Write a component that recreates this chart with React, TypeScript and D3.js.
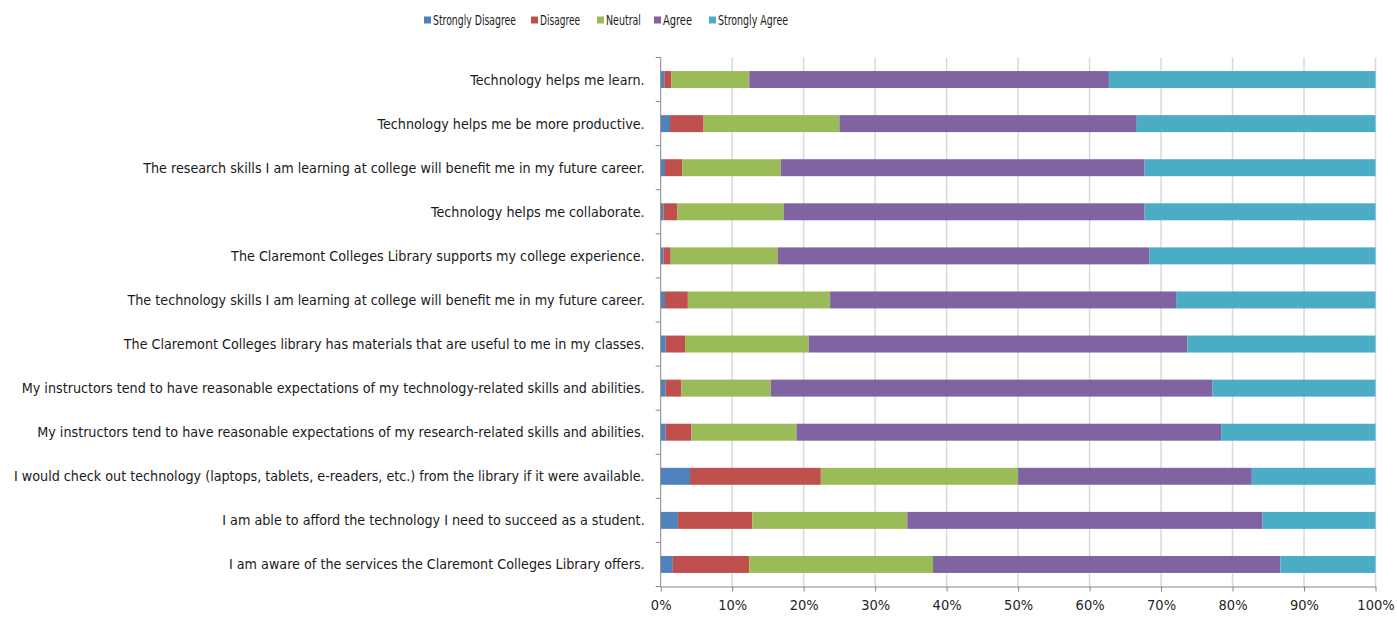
import React, { useRef, useEffect } from 'react';
import * as d3 from 'd3';

// survey statements, top to bottom
const statements = [
  'Technology helps me learn.',
  'Technology helps me be more productive.',
  'The research skills I am learning at college will benefit me in my future career.',
  'Technology helps me collaborate.',
  'The Claremont Colleges Library supports my college experience.',
  'The technology skills I am learning at college will benefit me in my future career.',
  'The Claremont Colleges library has materials that are useful to me in my classes.',
  'My instructors tend to have reasonable expectations of my technology-related skills and abilities.',
  'My instructors tend to have reasonable expectations of my research-related skills and abilities.',
  'I would check out technology (laptops, tablets, e-readers, etc.) from the library if it were available.',
  'I am able to afford the technology I need to succeed as a student.',
  'I am aware of the services the Claremont Colleges Library offers.',
];

const responses = ['Strongly Disagree', 'Disagree', 'Neutral', 'Agree', 'Strongly Agree'];
const colors = ['#4F81BD', '#C0504D', '#9BBB59', '#8064A2', '#4BACC6'];

// percentages per statement
const stronglyDisagree = [0.5, 1.3, 0.6, 0.4, 0.4, 0.6, 0.7, 0.7, 0.7, 4.1, 2.4, 1.7];
const disagree = [1.0, 4.7, 2.4, 1.9, 1.0, 3.2, 2.7, 2.2, 3.6, 18.3, 10.4, 10.7];
const neutral = [10.9, 19.0, 13.8, 14.9, 15.0, 19.9, 17.3, 12.5, 14.7, 27.6, 21.7, 25.7];
const agree = [50.3, 41.6, 50.9, 50.5, 52.0, 48.4, 53.0, 61.8, 59.4, 32.7, 49.7, 48.6];
const stronglyAgree = [37.3, 33.4, 32.3, 32.3, 31.6, 27.9, 26.3, 22.8, 21.6, 17.3, 15.8, 13.3];

const xTicks = [0, 0.1, 0.2, 0.3, 0.4, 0.5, 0.6, 0.7, 0.8, 0.9, 1];

const FONT = "'DejaVu Sans Condensed', 'Roboto', sans-serif";

const App: React.FC = () => {
  const ref = useRef<SVGSVGElement | null>(null);

  useEffect(() => {
    if (!ref.current) return;
    const width = 1397;
    const height = 620;
    const margin = { top: 57.5, right: 21.5, bottom: 33.5, left: 660.7 };

    const svg = d3.select(ref.current);
    svg.attr('width', width).attr('height', height);
    svg.selectAll('*').remove();

    const series = [stronglyDisagree, disagree, neutral, agree, stronglyAgree];
    const rows = statements.map((s, i) => {
      const r: any = { label: s };
      responses.forEach((k, j) => (r[k] = series[j][i]));
      return r;
    });
    const stacked = d3.stack<any>().keys(responses).offset(d3.stackOffsetExpand)(rows);

    const x = d3.scaleLinear().domain([0, 1]).range([margin.left, width - margin.right]);
    const y = d3.scaleBand<string>()
      .domain(statements)
      .range([margin.top, height - margin.bottom])
      .paddingInner(0.615)
      .paddingOuter(0.3075);

    // gridlines
    svg.append('g')
      .selectAll('line')
      .data(xTicks.slice(1))
      .join('line')
      .attr('x1', d => x(d)).attr('x2', d => x(d))
      .attr('y1', margin.top).attr('y2', height - margin.bottom)
      .attr('stroke', '#d9d9d9')
      .attr('stroke-width', 1.5);

    // bars
    svg.append('g')
      .selectAll('g')
      .data(stacked)
      .join('g')
      .attr('fill', (_, i) => colors[i])
      .selectAll('rect')
      .data(d => d)
      .join('rect')
      .attr('x', d => x(d[0]))
      .attr('width', d => x(d[1]) - x(d[0]))
      .attr('y', d => y(d.data.label)!)
      .attr('height', y.bandwidth());

    // x axis
    const xAxis = d3.axisBottom(x)
      .tickValues(xTicks)
      .tickFormat(d => `${Math.round((d as number) * 100)}%`)
      .tickSize(5)
      .tickSizeOuter(0);
    const gx = svg.append('g')
      .attr('transform', `translate(0,${height - margin.bottom})`)
      .call(xAxis);
    gx.select('.domain').attr('stroke', '#868686');
    gx.selectAll('.tick line').attr('stroke', '#868686');
    gx.selectAll('.tick text')
      .attr('fill', '#262626')
      .attr('font-family', FONT)
      .attr('font-size', 14.5)
      .attr('dy', '1.1em');

    // y axis: line plus ticks between categories
    const bandStep = y.step();
    const boundaries = d3.range(statements.length + 1).map(i => margin.top + i * bandStep);
    const gy = svg.append('g');
    gy.append('line')
      .attr('x1', margin.left).attr('x2', margin.left)
      .attr('y1', margin.top).attr('y2', height - margin.bottom)
      .attr('stroke', '#868686');
    gy.selectAll('line.t')
      .data(boundaries)
      .join('line')
      .attr('class', 't')
      .attr('x1', margin.left - 5).attr('x2', margin.left)
      .attr('y1', d => d).attr('y2', d => d)
      .attr('stroke', '#868686');
    gy.selectAll('text')
      .data(statements)
      .join('text')
      .attr('x', margin.left - 16)
      .attr('y', d => y(d)! + y.bandwidth() / 2)
      .attr('dy', '0.35em')
      .attr('text-anchor', 'end')
      .attr('font-family', FONT)
      .attr('font-size', 14.2)
      .attr('fill', '#1a1a1a')
      .text(d => d);

    // legend (square positions and label widths)
    const legendX = [424, 531, 597, 654, 709];
    const legendW = [83, 40, 35, 29, 70];
    const lg = svg.append('g')
      .selectAll('g')
      .data(responses)
      .join('g')
      .attr('transform', (_, i) => `translate(${legendX[i]},20)`);
    lg.append('rect')
      .attr('x', 0).attr('y', -3.5)
      .attr('width', 7).attr('height', 7)
      .attr('fill', (_, i) => colors[i]);
    lg.append('text')
      .attr('x', 9)
      .attr('dy', '0.35em')
      .attr('font-family', FONT)
      .attr('font-size', 14)
      .attr('textLength', (_, i) => legendW[i])
      .attr('lengthAdjust', 'spacingAndGlyphs')
      .attr('fill', '#1a1a1a')
      .text(d => d);
  }, []);

  return <svg ref={ref} style={{ position: 'absolute', left: 0, top: 0 }}></svg>;
};

export default App;
